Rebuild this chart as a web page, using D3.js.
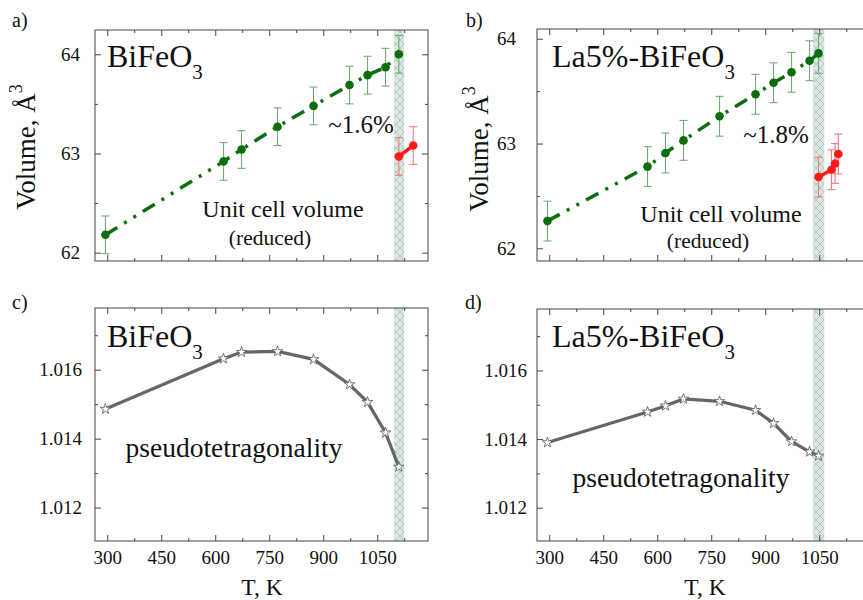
<!DOCTYPE html>
<html>
<head>
<meta charset="utf-8">
<script src="https://cdn.jsdelivr.net/npm/d3@7"></script>
<style>
  body { margin: 0; background: #fff; }
  text { font-family: "Liberation Serif", "Times New Roman", serif; fill: #111; }
</style>
</head>
<body>
<svg id="fig"></svg>
<script>
// temperatures (K) and values
const tempA = [295, 623, 673, 773, 873, 973, 1023, 1073, 1110];
const volA = [62.18, 62.92, 63.04, 63.27, 63.48, 63.69, 63.79, 63.87, 64.00];
const tempAred = [1110, 1150];
const volAred = [62.97, 63.08];

const tempB = [295, 573, 623, 673, 773, 873, 923, 973, 1023, 1048];
const volB = [62.26, 62.78, 62.91, 63.03, 63.26, 63.47, 63.58, 63.68, 63.79, 63.86];
const tempBred = [1048, 1084, 1094, 1103];
const volBred = [62.68, 62.75, 62.81, 62.90];

const volErr = 0.19;

const tetC = [1.01486, 1.01632, 1.01651, 1.01653, 1.01630, 1.01557, 1.01506, 1.01417, 1.01318];
const tetD = [1.01390, 1.01479, 1.01497, 1.01517, 1.01510, 1.01484, 1.01446, 1.01393, 1.01363, 1.01351];

// transition bands (K)
const bandAC = [1097, 1125];
const bandBD = [1033, 1064];

const xTicks = [300, 450, 600, 750, 900, 1050];
const xMinor = [375, 525, 675, 825, 975, 1125];
const volTicks = [62, 63, 64];
const volMinor = [62.5, 63.5];
const tetTicks = [1.012, 1.014, 1.016];
const tetMinor = [1.013, 1.015, 1.017];

const width = 863, height = 600;
const svg = d3.select("#fig").attr("width", width).attr("height", height);

// hatch for the transition band
const defs = svg.append("defs");
const pat = defs.append("pattern")
    .attr("id", "hatch")
    .attr("patternUnits", "userSpaceOnUse")
    .attr("width", 8).attr("height", 8);
pat.append("rect").attr("width", 8).attr("height", 8).attr("fill", "#d8e8dc");
pat.append("path").attr("d", "M0,0L8,8M8,0L0,8")
    .attr("stroke", "#a9b1c4").attr("stroke-width", 0.7);

const green = "#0b6d0b", red = "#ff1a1a";

function panel(p) {
  const x = d3.scaleLinear().domain([266, 1191]).range([p.l, p.r]);
  const y = d3.scaleLinear().domain(p.yDom).range([p.b, p.t]);
  const g = svg.append("g");

  // band
  g.append("rect")
      .attr("x", x(p.band[0])).attr("y", p.t)
      .attr("width", x(p.band[1]) - x(p.band[0]))
      .attr("height", p.b - p.t)
      .attr("fill", "url(#hatch)");

  // axes: ticks inside, on all four sides
  const ax = (axis, tr) => {
    g.append("g").attr("transform", tr).call(axis)
      .call(s => s.select(".domain").remove())
      .call(s => s.selectAll(".tick line").attr("stroke", "#444"))
      .call(s => s.selectAll(".tick text")
          .attr("font-family", "Liberation Serif, serif")
          .attr("font-size", 19).attr("fill", "#111"));
  };
  const big = 6, small = 3;
  ax(d3.axisBottom(x).tickValues(xTicks).tickSizeInner(-big).tickSizeOuter(0)
      .tickPadding(p.showX ? 10 : 0).tickFormat(p.showX ? d3.format("d") : ""),
     `translate(0,${p.b})`);
  ax(d3.axisBottom(x).tickValues(xMinor).tickSizeInner(-small).tickSizeOuter(0).tickFormat(""),
     `translate(0,${p.b})`);
  ax(d3.axisTop(x).tickValues(xTicks).tickSizeInner(-big).tickSizeOuter(0).tickFormat(""),
     `translate(0,${p.t})`);
  ax(d3.axisTop(x).tickValues(xMinor).tickSizeInner(-small).tickSizeOuter(0).tickFormat(""),
     `translate(0,${p.t})`);
  ax(d3.axisLeft(y).tickValues(p.yTicks).tickSizeInner(-big).tickSizeOuter(0)
      .tickPadding(p.yPad).tickFormat(p.yFmt),
     `translate(${p.l},0)`);
  ax(d3.axisLeft(y).tickValues(p.yMinor).tickSizeInner(-small).tickSizeOuter(0).tickFormat(""),
     `translate(${p.l},0)`);
  ax(d3.axisRight(y).tickValues(p.yTicks).tickSizeInner(-big).tickSizeOuter(0).tickFormat(""),
     `translate(${p.r},0)`);
  ax(d3.axisRight(y).tickValues(p.yMinor).tickSizeInner(-small).tickSizeOuter(0).tickFormat(""),
     `translate(${p.r},0)`);

  g.append("rect")
      .attr("x", p.l).attr("y", p.t)
      .attr("width", p.r - p.l).attr("height", p.b - p.t)
      .attr("fill", "none").attr("stroke", "#444").attr("stroke-width", 1);

  return {g, x, y};
}

function volSeries(P, temps, vals, col, barCol) {
  const {g, x, y} = P;
  const pts = temps.map((t, i) => [t, vals[i]]);
  const bars = g.append("g").attr("stroke", barCol).attr("stroke-width", 1.1);
  pts.forEach(d => {
    const cx = x(d[0]), y0 = y(d[1] - volErr), y1 = y(d[1] + volErr);
    bars.append("line").attr("x1", cx).attr("x2", cx).attr("y1", y0).attr("y2", y1);
    bars.append("line").attr("x1", cx - 4).attr("x2", cx + 4).attr("y1", y0).attr("y2", y0);
    bars.append("line").attr("x1", cx - 4).attr("x2", cx + 4).attr("y1", y1).attr("y2", y1);
  });
  g.append("path")
      .attr("d", d3.line().x(d => x(d[0])).y(d => y(d[1]))(pts))
      .attr("fill", "none").attr("stroke", col).attr("stroke-width", 3.5)
      .attr("stroke-dasharray", "14,8,3,8,3,8");
  g.append("g").selectAll("circle").data(pts).join("circle")
      .attr("cx", d => x(d[0])).attr("cy", d => y(d[1])).attr("r", 4.3)
      .attr("fill", col);
}

function tetSeries(P, temps, vals) {
  const {g, x, y} = P;
  const pts = temps.map((t, i) => [t, vals[i]]);
  g.append("path")
      .attr("d", d3.line().x(d => x(d[0])).y(d => y(d[1]))(pts))
      .attr("fill", "none").attr("stroke", "#666").attr("stroke-width", 3.2);
  g.append("g").selectAll("path").data(pts).join("path")
      .attr("transform", d => `translate(${x(d[0])},${y(d[1])})`)
      .attr("d", d3.symbol(d3.symbolStar, 34))
      .attr("fill", "#fff").attr("stroke", "#555").attr("stroke-width", 0.8);
}

function label(txt, x, y, size, anchor) {
  return svg.append("text").attr("x", x).attr("y", y)
      .attr("font-size", size).attr("text-anchor", anchor || "start").text(txt);
}

function title(main, x, y) {
  const t = svg.append("text").attr("x", x).attr("y", y).attr("font-size", 32);
  t.append("tspan").text(main);
  t.append("tspan").attr("font-size", 21).attr("dy", 12).text("3");
}

function yLabel(x, y) {
  const t = svg.append("text")
      .attr("transform", `translate(${x},${y}) rotate(-90)`)
      .attr("text-anchor", "middle").attr("font-size", 27);
  t.append("tspan").text("Volume, Å");
  t.append("tspan").attr("font-size", 18).attr("dy", -13).text("3");
}

// a)
const A = panel({l: 95, r: 428, t: 30, b: 261, yDom: [61.916, 64.245], band: bandAC,
  yTicks: volTicks, yMinor: volMinor, yFmt: d3.format("d"), yPad: 15, showX: false});
volSeries(A, tempA, volA, green, "#72ab72");
volSeries(A, tempAred, volAred, red, "#f27a7a");

// b)
const B = panel({l: 537, r: 870, t: 29, b: 261, yDom: [61.879, 64.093], band: bandBD,
  yTicks: volTicks, yMinor: volMinor, yFmt: d3.format("d"), yPad: 21, showX: false});
volSeries(B, tempB, volB, green, "#72ab72");
volSeries(B, tempBred, volBred, red, "#f27a7a");

// c)
const C = panel({l: 95, r: 428, t: 308, b: 541, yDom: [1.01103, 1.01779], band: bandAC,
  yTicks: tetTicks, yMinor: tetMinor, yFmt: d3.format(".3f"), yPad: 13, showX: true});
tetSeries(C, tempA, tetC);

// d)
const D = panel({l: 537, r: 870, t: 309, b: 541, yDom: [1.01103, 1.01779], band: bandBD,
  yTicks: tetTicks, yMinor: tetMinor, yFmt: d3.format(".3f"), yPad: 10, showX: true});
tetSeries(D, tempB, tetD);

// panel letters
label("a)", 12, 27, 20);
label("b)", 466, 27, 20);
label("c)", 12, 309, 20);
label("d)", 465, 309, 20);

title("BiFeO", 107, 67);
title("La5%-BiFeO", 552, 67);
title("BiFeO", 107, 347);
title("La5%-BiFeO", 552, 347);

yLabel(35, 147);
yLabel(488, 149);

label("~1.6%", 361, 133, 25, "middle");
label("~1.8%", 776, 143, 25, "middle");
label("Unit cell volume", 283, 217, 24, "middle");
label("(reduced)", 270, 245, 21.5, "middle");
label("Unit cell volume", 721, 222, 24, "middle");
label("(reduced)", 708, 248, 21.5, "middle");
label("pseudotetragonality", 234, 457, 27.5, "middle");
label("pseudotetragonality", 681, 487, 27.5, "middle");

label("T, K", 262, 595, 23.5, "middle");
label("T, K", 705, 595, 23.5, "middle");
</script>
</body>
</html>
